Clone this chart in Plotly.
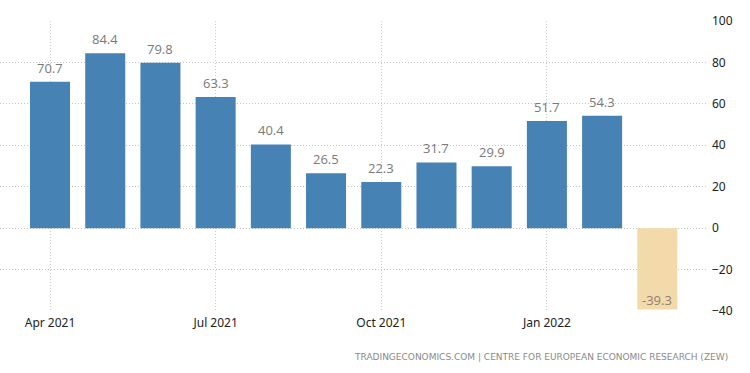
import plotly.graph_objects as go

months = ["Apr 2021", "May 2021", "Jun 2021", "Jul 2021", "Aug 2021", "Sep 2021",
          "Oct 2021", "Nov 2021", "Dec 2021", "Jan 2022", "Feb 2022", "Mar 2022"]
values = [70.7, 84.4, 79.8, 63.3, 40.4, 26.5, 22.3, 31.7, 29.9, 51.7, 54.3, -39.3]
tick_months = ["Apr 2021", "Jul 2021", "Oct 2021", "Jan 2022"]
y_ticks = [-40, -20, 0, 20, 40, 60, 80, 100]

blue = "#4682B4"
tan = "#F2DAAA"
colors = [blue if v >= 0 else tan for v in values]

fig = go.Figure(go.Bar(
    x=months, y=values,
    marker=dict(color=colors, line=dict(width=0)),
    width=0.725,
    hoverinfo="x+y",
))

annotations = []
for m, v in zip(months, values):
    if v >= 0:
        annotations.append(dict(
            x=m, y=v, xref="x", yref="y", text=f"{v:.1f}", showarrow=False,
            yanchor="middle", yshift=14,
            font=dict(family="Open Sans", size=13, color="#7a7a7a"),
        ))
    else:
        annotations.append(dict(
            x=m, y=v, xref="x", yref="y", text=f"{v:.1f}", showarrow=False,
            yanchor="middle", yshift=10,
            font=dict(family="Open Sans", size=13, color="#8c8270"),
        ))

annotations.append(dict(
    text="TRADINGECONOMICS.COM | CENTRE FOR EUROPEAN ECONOMIC RESEARCH (ZEW)",
    xref="paper", yref="paper", x=1.033, y=-0.159,
    xanchor="right", yanchor="middle", showarrow=False,
    font=dict(family="DejaVu Sans", size=9, color="#8a8a8a"),
))

fig.update_layout(
    width=750, height=373,
    margin=dict(l=0, r=43, t=21, b=62),
    plot_bgcolor="white", paper_bgcolor="white",
    showlegend=False,
    xaxis=dict(
        type="category",
        range=[-0.906, 11.9],
        tickvals=tick_months, ticktext=tick_months,
        showgrid=True, gridcolor="#cccccc", griddash="1px,2px", gridwidth=1,
        tickfont=dict(family="Noto Sans", size=12, color="#222"),
        ticks="", showline=False, zeroline=False,
        ticklabelstandoff=3,
    ),
    yaxis=dict(
        side="right", range=[-40, 100],
        tickvals=y_ticks,
        showgrid=True, gridcolor="#c4c4c4", griddash="1px,2px", gridwidth=1,
        tickfont=dict(family="Noto Sans", size=12, color="#222"),
        ticks="", showline=False, zeroline=False,
        ticklabelstandoff=4,
    ),
    annotations=annotations,
)

fig.write_html("out.html", config={"displayModeBar": False},
               post_script="document.body.style.margin='0';")
